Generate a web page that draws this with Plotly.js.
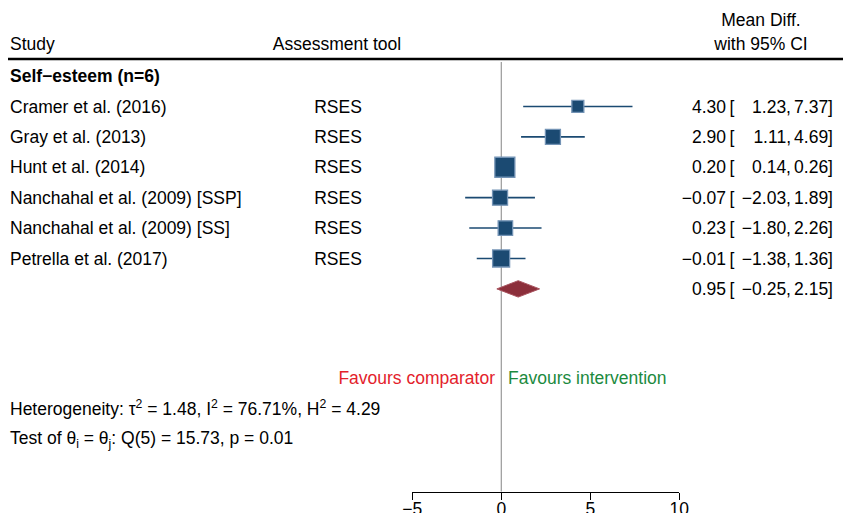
<!DOCTYPE html>
<html>
<head>
<meta charset="utf-8">
<script src="https://cdn.plot.ly/plotly-3.0.1.min.js"></script>
<style>html,body{margin:0;padding:0;background:#fff;}#chart{width:843px;height:513px;}</style>
</head>
<body>
<div id="chart"></div>
<script>
// ---- data ----
const studies = ["Cramer et al. (2016)", "Gray et al. (2013)", "Hunt et al. (2014)",
  "Nanchahal et al. (2009) [SSP]", "Nanchahal et al. (2009) [SS]", "Petrella et al. (2017)"];
const tools = ["RSES", "RSES", "RSES", "RSES", "RSES", "RSES"];
const meanDiff = [4.30, 2.90, 0.20, -0.07, 0.23, -0.01];
const ciLow = [1.23, 1.11, 0.14, -2.03, -1.80, -1.38];
const ciHigh = [7.37, 4.69, 0.26, 1.89, 2.26, 1.36];
const weights = [9.6, 15.1, 26.8, 15.1, 14.0, 19.4];
const pooledEst = [0.95];
const pooledLow = [-0.25];
const pooledHigh = [2.15];
const groupLabel = "Self\u2212esteem (n=6)";
const xTicks = [-5, 0, 5, 10];
const heteroText = "Heterogeneity: \u03c4<sup>2</sup> = 1.48, I<sup>2</sup> = 76.71%, H<sup>2</sup> = 4.29";
const testText = "Test of \u03b8<sub>i</sub> = \u03b8<sub>j</sub>: Q(5) = 15.73, p = 0.01";

// ---- layout helpers ----
const W = 843, H = 513;
const FONT = "Liberation Sans, Arial, Helvetica, sans-serif";
const FS = 17.5;
const fmt = v => v.toFixed(2).replace("-", "\u2212");
const studyRow = i => i + 1;       // row 0 = group label
const pooledRow = studies.length + 1;
const TOFF = 0.06;                 // small downward nudge for text baselines

const navy = "#1b4a72", navyEdge = "#7393b5";

// CI segments
const segX = [], segY = [];
meanDiff.forEach((m, i) => { segX.push(ciLow[i], ciHigh[i], null); segY.push(studyRow(i), studyRow(i), null); });

const maxW = Math.max(...weights);
const sizes = weights.map(w => 20 * Math.sqrt(w / maxW));

const dh = 0.27;
const traces = [
  {x: segX, y: segY, xaxis: "x2", yaxis: "y", mode: "lines", line: {color: navy, width: 1.6},
   hoverinfo: "skip", showlegend: false},
  {x: pooledLow.concat(pooledEst, pooledHigh, pooledEst, pooledLow),
   y: [pooledRow, pooledRow - dh, pooledRow, pooledRow + dh, pooledRow],
   xaxis: "x2", yaxis: "y", mode: "lines", fill: "toself", fillcolor: "#8c2f3b",
   line: {color: "#a9545f", width: 1}, hoverinfo: "skip", showlegend: false},
  {x: meanDiff, y: meanDiff.map((_, i) => studyRow(i)), xaxis: "x2", yaxis: "y", mode: "markers",
   marker: {symbol: "square", size: sizes, opacity: 1, color: navy, line: {color: navyEdge, width: 1.3}},
   hoverinfo: "skip", showlegend: false}
];

// text traces on a pixel-scaled x axis
const T = (texts, xs, ys, pos, color) => traces.push({
  x: xs, y: ys.map(v => v + TOFF), text: texts, xaxis: "x", yaxis: "y", mode: "text", textposition: pos,
  textfont: {family: FONT, size: FS, color: color || "#000"}, cliponaxis: false,
  hoverinfo: "skip", showlegend: false
});

const rows = studies.map((_, i) => studyRow(i));
const allRows = rows.concat([pooledRow]);
const est = meanDiff.concat(pooledEst), lo = ciLow.concat(pooledLow), hi = ciHigh.concat(pooledHigh);

T(["Study", "<b>" + groupLabel + "</b>"].concat(studies, [heteroText, testText]),
  [10, 10].concat(studies.map(() => 10), [10, 10]),
  [-1.053, 0].concat(rows, [10.95, 11.91]), "middle right");
T(["Assessment tool", "Mean Diff.", "with 95% CI"].concat(tools),
  [337, 761, 761].concat(tools.map(() => 338)),
  [-1.053, -1.842, -1.053].concat(rows), "middle center");
T(est.map(fmt), est.map(() => 726), allRows, "middle left");
T(est.map(() => "["), est.map(() => 729.5), allRows, "middle right");
T(lo.map(v => fmt(v) + ","), lo.map(() => 791), allRows, "middle left");
T(hi.map(v => fmt(v) + "]"), hi.map(() => 833), allRows, "middle left");
T(["Favours comparator"], [495], [9.934], "middle left", "#e3222b");
T(["Favours intervention"], [508], [9.934], "middle right", "#1c8a3e");

const layout = {
  width: W, height: H,
  margin: {l: 0, r: 0, t: 0, b: 0},
  paper_bgcolor: "#fff", plot_bgcolor: "rgba(0,0,0,0)",
  showlegend: false,
  xaxis: {domain: [0, 1], range: [0, W], visible: false, fixedrange: true, anchor: "y"},
  xaxis2: {
    domain: [412.3 / W, 679.3 / W], range: [-5, 10], anchor: "y",
    tickvals: xTicks, ticktext: xTicks.map(v => String(v).replace("-", "\u2212")),
    ticks: "outside", ticklen: 7, tickwidth: 1.3, tickcolor: "#000",
    ticklabelstandoff: -6,
    showline: true, linecolor: "#000", linewidth: 1.3,
    showgrid: false, zeroline: false,
    tickfont: {family: FONT, size: FS, color: "#000"}, fixedrange: true
  },
  yaxis: {
    domain: [(H - 491.7) / H, 1], range: [13.67, -2.5], anchor: "x",
    visible: false, showgrid: false, zeroline: false, fixedrange: true
  },
  shapes: [
    {type: "line", xref: "x2", yref: "y", x0: 0, x1: 0, y0: -0.46, y1: 13.67,
     line: {color: "#999999", width: 1.2}, layer: "below"},
    {type: "line", xref: "paper", yref: "y", x0: 8 / W, x1: 1, y0: -0.559, y1: -0.559,
     line: {color: "#000", width: 2.6}}
  ]
};

Plotly.newPlot("chart", traces, layout, {staticPlot: true, displayModeBar: false});
</script>
</body>
</html>
